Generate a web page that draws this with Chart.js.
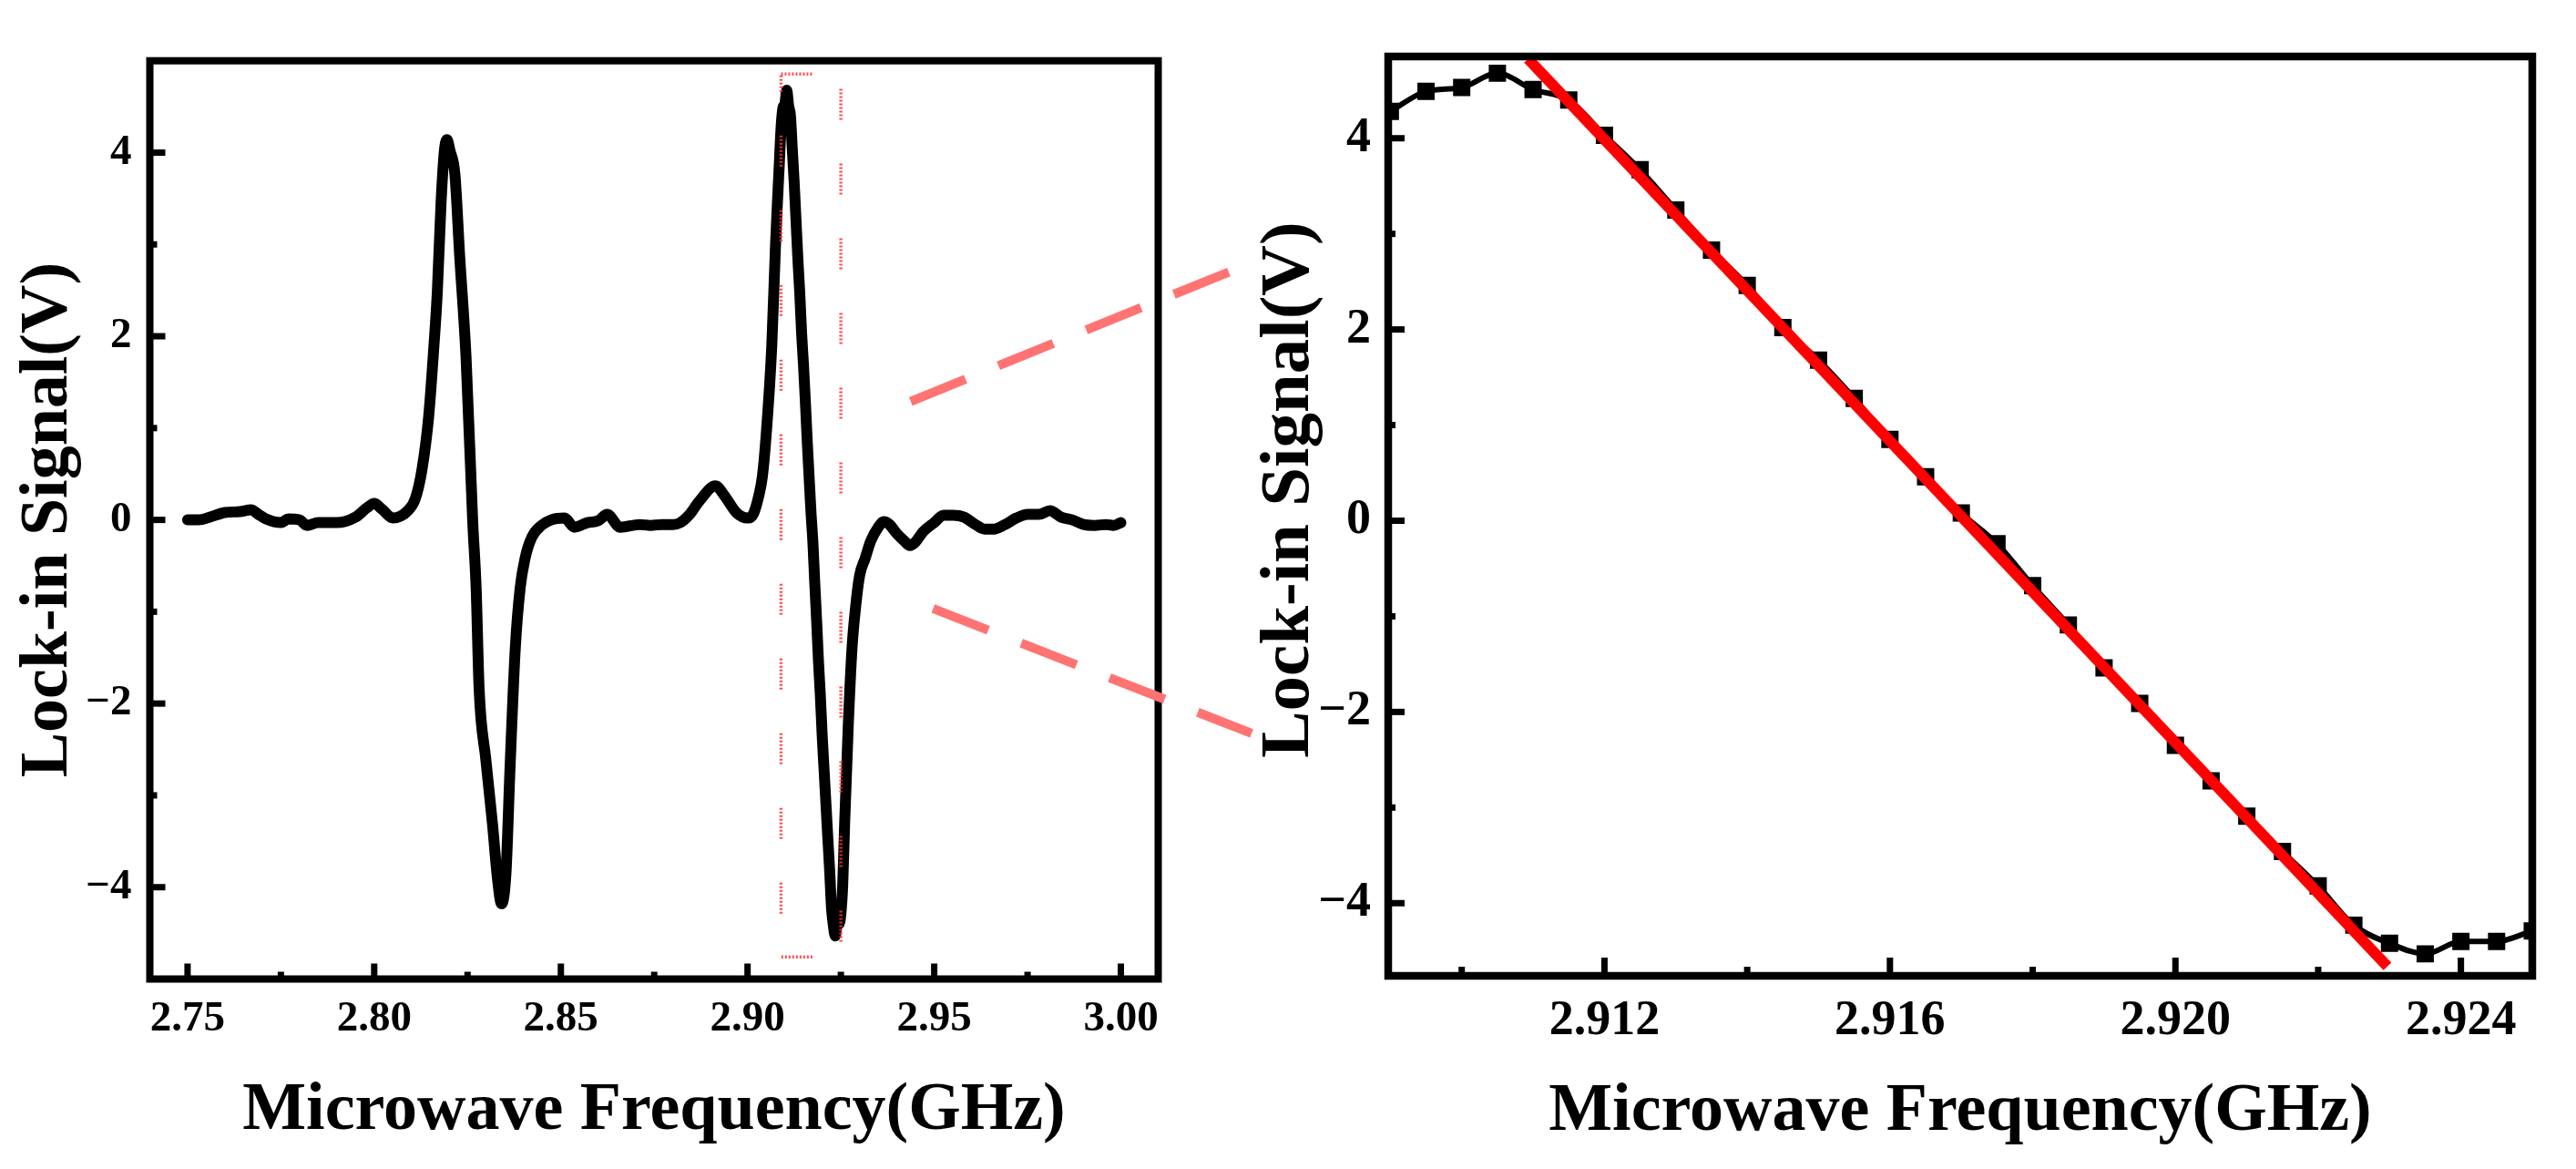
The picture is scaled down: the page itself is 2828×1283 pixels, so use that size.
<!DOCTYPE html>
<html>
<head>
<meta charset="utf-8">
<title>Lock-in signal vs microwave frequency</title>
<script src="https://cdn.jsdelivr.net/npm/chart.js@4.4.1/dist/chart.umd.min.js"></script>
<style>
  html, body { margin: 0; padding: 0; background: #fff; overflow: hidden; }
  #wrap { position: relative; width: 2828px; height: 1283px; background: #fff; }
  canvas { position: absolute; top: 0; }
  #overview { left: 0; }
  #detail { left: 1360px; }
</style>
</head>
<body>
<div id="wrap">
  <canvas id="overview" width="1420" height="1283"></canvas>
  <canvas id="detail" width="1468" height="1283"></canvas>
</div>
<script>
// full sweep (left panel)
const sweepFreq = [
  2.750, 2.753, 2.756, 2.760, 2.764, 2.767, 2.769, 2.771, 2.775, 2.777,
  2.780, 2.782, 2.785, 2.790, 2.795, 2.798, 2.800, 2.802, 2.805, 2.807,
  2.809, 2.811, 2.8128, 2.8146, 2.8159, 2.8169, 2.8179, 2.8188, 2.8195, 2.8203,
  2.8216, 2.8229, 2.8246, 2.8264, 2.8273, 2.8281, 2.8299, 2.8317, 2.8330, 2.8341,
  2.8353, 2.8364, 2.8378, 2.8391, 2.8404, 2.8422, 2.8448, 2.8474, 2.851, 2.8536,
  2.8571, 2.860, 2.8624, 2.8659, 2.8711, 2.874, 2.877, 2.880, 2.882, 2.8845,
  2.887, 2.8914, 2.8939, 2.897, 2.9001, 2.9015, 2.903, 2.904, 2.905, 2.9065,
  2.9075, 2.908, 2.9085,
  2.9090, 2.9095, 2.9100, 2.9105, 2.9110, 2.9115, 2.9120, 2.9125, 2.9130, 2.9135,
  2.9140, 2.9145, 2.9150, 2.9155, 2.9160, 2.9165, 2.9170, 2.9175, 2.9180, 2.9185,
  2.9190, 2.9195, 2.9200, 2.9205, 2.9210, 2.9215, 2.9220, 2.9225, 2.9230, 2.9235,
  2.9240, 2.9245, 2.9250,
  2.9255, 2.926, 2.927, 2.928, 2.929, 2.930, 2.9315, 2.933, 2.935, 2.9365,
  2.938, 2.940, 2.942, 2.9435, 2.945, 2.947, 2.950, 2.9525, 2.955, 2.958,
  2.961, 2.9635, 2.966, 2.969, 2.972, 2.975, 2.978, 2.981, 2.984, 2.987,
  2.990, 2.993, 2.996, 2.998, 3.000
];
const sweepSignal = [
  0.00, 0.00, 0.03, 0.08, 0.09, 0.11, 0.06, 0.01, -0.03, 0.01,
  0.00, -0.06, -0.03, -0.03, 0.03, 0.13, 0.18, 0.12, 0.02, 0.04,
  0.10, 0.23, 0.55, 1.13, 1.84, 2.48, 3.45, 4.02, 4.14, 4.02,
  3.77, 2.87, 1.77, -0.03, -0.74, -1.84, -2.61, -3.32, -3.90, -4.18,
  -3.84, -2.68, -1.39, -0.74, -0.42, -0.19, -0.06, 0.00, 0.02, -0.08,
  -0.03, -0.01, 0.06, -0.08, -0.05, -0.06, -0.05, -0.05, -0.03, 0.06,
  0.20, 0.37, 0.26, 0.08, 0.02, 0.06, 0.26, 0.48, 0.93, 1.90,
  3.00, 3.45, 3.87,
  4.28, 4.49, 4.53, 4.68, 4.51, 4.40, 4.03, 3.67, 3.25, 2.83,
  2.46, 2.02, 1.68, 1.28, 0.85, 0.46, 0.08, -0.24, -0.68, -1.09,
  -1.54, -1.91, -2.35, -2.72, -3.09, -3.46, -3.82, -4.23, -4.42, -4.53,
  -4.40, -4.40, -4.29,
  -3.97, -3.32, -2.22, -1.39, -0.93, -0.61, -0.42, -0.23, -0.08, -0.02,
  -0.05, -0.15, -0.23, -0.28, -0.24, -0.13, -0.03, 0.05, 0.05, 0.03,
  -0.05, -0.10, -0.10, -0.05, 0.02, 0.06, 0.06, 0.10, 0.03, 0.00,
  -0.05, -0.06, -0.05, -0.06, -0.03
];

// zoomed window (right panel)
const zoomFreq = [
  2.9090, 2.9095, 2.9100, 2.9105, 2.9110, 2.9115, 2.9120, 2.9125, 2.9130, 2.9135,
  2.9140, 2.9145, 2.9150, 2.9155, 2.9160, 2.9165, 2.9170, 2.9175, 2.9180, 2.9185,
  2.9190, 2.9195, 2.9200, 2.9205, 2.9210, 2.9215, 2.9220, 2.9225, 2.9230, 2.9235,
  2.9240, 2.9245, 2.9250
];
const zoomSignal = [
  4.28, 4.49, 4.53, 4.68, 4.51, 4.40, 4.03, 3.67, 3.25, 2.83,
  2.46, 2.02, 1.68, 1.28, 0.85, 0.46, 0.08, -0.24, -0.68, -1.09,
  -1.54, -1.91, -2.35, -2.72, -3.09, -3.46, -3.82, -4.23, -4.42, -4.53,
  -4.40, -4.40, -4.29
];

// linear fit over the slope
const fitFreq = [2.91093, 2.92297];
const fitSignal = [4.83, -4.66];

// axis ranges and ticks
const sweepRangeX = [2.7399, 3.0100];
const sweepRangeY = [-5, 5];
const zoomRangeX = [2.90897, 2.925];
const zoomRangeY = [-4.76, 4.855];
const sweepXTicks = [2.75, 2.80, 2.85, 2.90, 2.95, 3.00];
const sweepXMinor = [2.775, 2.825, 2.875, 2.925, 2.975];
const zoomXTicks = [2.912, 2.916, 2.920, 2.924];
const zoomXMinor = [2.910, 2.914, 2.918, 2.922];
const signalTicks = [-4, -2, 0, 2, 4];
const signalMinor = [-3, -1, 1, 3];

const serif = "'Liberation Serif', 'Times New Roman', serif";
const minusLabel = v => (v < 0 ? '\u2212' + Math.abs(v) : String(v));

// frame, inward ticks, zoom window box and connector dashes
const framePlugin = {
  id: 'frame',
  afterDatasetsDraw(chart, args, o) {
    const { ctx, chartArea: a } = chart;
    const x = chart.scales.x, y = chart.scales.y;
    ctx.save();
    if (o.box) {
      const x0 = x.getPixelForValue(o.box.x[0]), x1 = x.getPixelForValue(o.box.x[1]);
      const y0 = y.getPixelForValue(o.box.y[1]), y1 = y.getPixelForValue(o.box.y[0]);
      ctx.strokeStyle = 'rgba(255,50,50,0.85)';
      ctx.lineWidth = 3.5;
      ctx.setLineDash([2, 2, 2, 2, 2, 2, 2, 2, 2, 2, 2, 2, 2, 2, 2, 2, 2, 48]);
      ctx.strokeRect(x0, y0, x1 - x0, y1 - y0);
      ctx.setLineDash([]);
    }
    ctx.strokeStyle = '#000';
    ctx.lineCap = 'butt';
    ctx.lineWidth = o.tickWidth;
    const seg = (x0, y0, x1, y1) => { ctx.beginPath(); ctx.moveTo(x0, y0); ctx.lineTo(x1, y1); ctx.stroke(); };
    o.xMajor.forEach(v => { const p = x.getPixelForValue(v); seg(p, a.bottom, p, a.bottom - o.xMajorLen); });
    o.xMinor.forEach(v => { const p = x.getPixelForValue(v); seg(p, a.bottom, p, a.bottom - o.xMinorLen); });
    o.yMajor.forEach(v => { const p = y.getPixelForValue(v); seg(a.left, p, a.left + o.yMajorLen, p); });
    o.yMinor.forEach(v => { const p = y.getPixelForValue(v); seg(a.left, p, a.left + o.yMinorLen, p); });
    ctx.lineWidth = o.frameWidth;
    ctx.lineJoin = 'miter';
    ctx.strokeRect(a.left, a.top, a.right - a.left, a.bottom - a.top);
    if (o.connectors) {
      ctx.strokeStyle = 'rgb(255,115,115)';
      ctx.lineWidth = 10;
      ctx.setLineDash([65, 39]);
      o.connectors.forEach(c => {
        ctx.beginPath();
        ctx.moveTo(x.getPixelForValue(c[0]), y.getPixelForValue(c[1]));
        ctx.lineTo(x.getPixelForValue(c[2]), y.getPixelForValue(c[3]));
        ctx.stroke();
      });
    }
    ctx.restore();
  }
};

new Chart(document.getElementById('overview'), {
  type: 'line',
  data: {
    datasets: [{
      data: sweepFreq.map((f, i) => ({ x: f, y: sweepSignal[i] })),
      borderColor: '#000',
      borderWidth: 12,
      borderCapStyle: 'round',
      borderJoinStyle: 'round',
      cubicInterpolationMode: 'monotone',
      pointRadius: 0
    }]
  },
  options: {
    responsive: false,
    animation: false,
    layout: { autoPadding: false, padding: { left: 0, right: 148.5, top: 66.7, bottom: 0 } },
    plugins: {
      legend: { display: false },
      tooltip: { enabled: false },
      frame: {
        frameWidth: 8, tickWidth: 7,
        xMajor: sweepXTicks, xMinor: sweepXMinor, yMajor: signalTicks, yMinor: signalMinor,
        xMajorLen: 17, xMinorLen: 8, yMajorLen: 17, yMinorLen: 8,
        box: { x: zoomRangeX, y: zoomRangeY },
        connectors: [
          [2.94371, 1.29, 3.02892, 2.70],
          [2.94971, -0.966, 3.03502, -2.325]
        ]
      }
    },
    scales: {
      x: {
        type: 'linear',
        min: sweepRangeX[0], max: sweepRangeX[1],
        afterBuildTicks: s => { s.ticks = sweepXTicks.map(v => ({ value: v })); },
        afterFit: s => { s.height = 208.5; },
        grid: { display: false, drawTicks: false },
        border: { display: false },
        ticks: { padding: 16, color: '#000', font: { family: serif, weight: 'bold', size: 47 }, callback: v => v.toFixed(2), maxRotation: 0 },
        title: { display: true, text: 'Microwave Frequency(GHz)', color: '#000', padding: { top: 0, bottom: 18.6 }, font: { family: serif, weight: 'bold', size: 74 } }
      },
      y: {
        type: 'linear',
        min: sweepRangeY[0], max: sweepRangeY[1],
        afterBuildTicks: s => { s.ticks = signalTicks.map(v => ({ value: v })); },
        afterFit: s => { s.width = 164.5; },
        grid: { display: false, drawTicks: false },
        border: { display: false },
        ticks: { padding: 20, color: '#000', font: { family: serif, weight: 'bold', size: 47 }, callback: minusLabel },
        title: { display: true, text: 'Lock-in Signal(V)', color: '#000', padding: { top: 9, bottom: 0 }, font: { family: serif, weight: 'bold', size: 74 } }
      }
    }
  },
  plugins: [framePlugin]
});

new Chart(document.getElementById('detail'), {
  type: 'line',
  data: {
    datasets: [{
      data: fitFreq.map((f, i) => ({ x: f, y: fitSignal[i] })),
      borderColor: '#ff0000',
      borderWidth: 12,
      pointRadius: 0
    }, {
      data: zoomFreq.map((f, i) => ({ x: f, y: zoomSignal[i] })),
      borderColor: '#000',
      borderWidth: 6,
      cubicInterpolationMode: 'monotone',
      pointStyle: 'rect',
      pointRadius: 12,
      pointBorderWidth: 2,
      pointBackgroundColor: '#000',
      pointBorderColor: '#000',
      clip: 0
    }]
  },
  options: {
    responsive: false,
    animation: false,
    layout: { autoPadding: false, padding: { left: 0, right: 48, top: 62, bottom: 0 } },
    plugins: {
      legend: { display: false },
      tooltip: { enabled: false },
      frame: {
        frameWidth: 8.5, tickWidth: 7,
        xMajor: zoomXTicks, xMinor: zoomXMinor, yMajor: signalTicks, yMinor: signalMinor,
        xMajorLen: 20, xMinorLen: 10, yMajorLen: 18, yMinorLen: 8
      }
    },
    scales: {
      x: {
        type: 'linear',
        min: zoomRangeX[0], max: zoomRangeX[1],
        afterBuildTicks: s => { s.ticks = zoomXTicks.map(v => ({ value: v })); },
        afterFit: s => { s.height = 212; },
        grid: { display: false, drawTicks: false },
        border: { display: false },
        ticks: { padding: 18, color: '#000', font: { family: serif, weight: 'bold', size: 54 }, callback: v => v.toFixed(3), maxRotation: 0 },
        title: { display: true, text: 'Microwave Frequency(GHz)', color: '#000', padding: { top: 0, bottom: 18 }, font: { family: serif, weight: 'bold', size: 74 } }
      },
      y: {
        type: 'linear',
        min: zoomRangeY[0], max: zoomRangeY[1],
        afterBuildTicks: s => { s.ticks = signalTicks.map(v => ({ value: v })); },
        afterFit: s => { s.width = 164; },
        grid: { display: false, drawTicks: false },
        border: { display: false },
        ticks: { padding: 19, color: '#000', font: { family: serif, weight: 'bold', size: 54 }, callback: minusLabel },
        // leading spaces nudge the label up, as in the original
        title: { display: true, text: '   Lock-in Signal(V)', color: '#000', padding: { top: 10, bottom: 0 }, font: { family: serif, weight: 'bold', size: 77 } }
      }
    }
  },
  plugins: [framePlugin]
});
</script>
</body>
</html>
